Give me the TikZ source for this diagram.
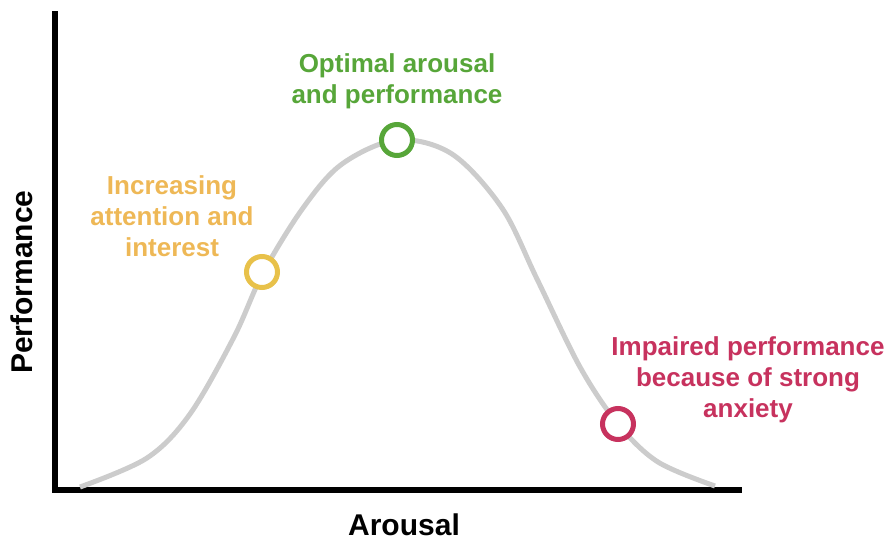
\documentclass[tikz,border=0pt]{standalone}
\usepackage{fontspec}
\setmainfont{Liberation Sans}
\usepackage{tikz}

\definecolor{curvegray}{HTML}{CCCCCC}
\definecolor{optgreen}{HTML}{57A639}
\definecolor{risering}{HTML}{E8C14A}
\definecolor{risetext}{HTML}{EEB856}
\definecolor{fallred}{HTML}{C7325E}

\begin{document}
\begin{tikzpicture}[x=1pt, y=-1pt,
    marker/.style={circle, draw, fill=white, line width=5pt, minimum size=31pt, inner sep=0pt},
    note/.style={align=center, font=\fontsize{26}{31}\selectfont\bfseries},
    axislabel/.style={font=\fontsize{30}{36}\selectfont\bfseries}]
    \useasboundingbox (0,0) rectangle (886,541);

    % Coordinate axes
    \draw[line width=6pt] (55,11) -- (55,490) -- (742,490);
    \node[axislabel, rotate=90] (ylab) at (22,282) {Performance};
    \node[axislabel] (xlab) at (404,525) {Arousal};

    % Arousal curve
    \draw[curvegray, line width=5pt] plot[smooth, tension=0.55] coordinates {
        (80,487) (147,458) (190,414) (234,337) (263,273) (303,208) (342,164)
        (397,140) (452,154) (502,208) (537,279) (580,367)
        (618,424) (658,462) (715,486)};

    % Point markers
    \node[marker, draw=risering] (rise) at (262,272) {};
    \node[marker, draw=optgreen] (peak) at (397,140) {};
    \node[marker, draw=fallred] (fall) at (618,424) {};

    % Annotations
    \node[note, text=optgreen] (peaklab) at (397,81) {Optimal arousal\\and performance};
    \node[note, text=risetext] (riselab) at (172,216) {Increasing\\attention and\\interest};
    \node[note, text=fallred] (falllab) at (748,380) {Impaired performance\\because of strong\\anxiety};
\end{tikzpicture}
\end{document}
